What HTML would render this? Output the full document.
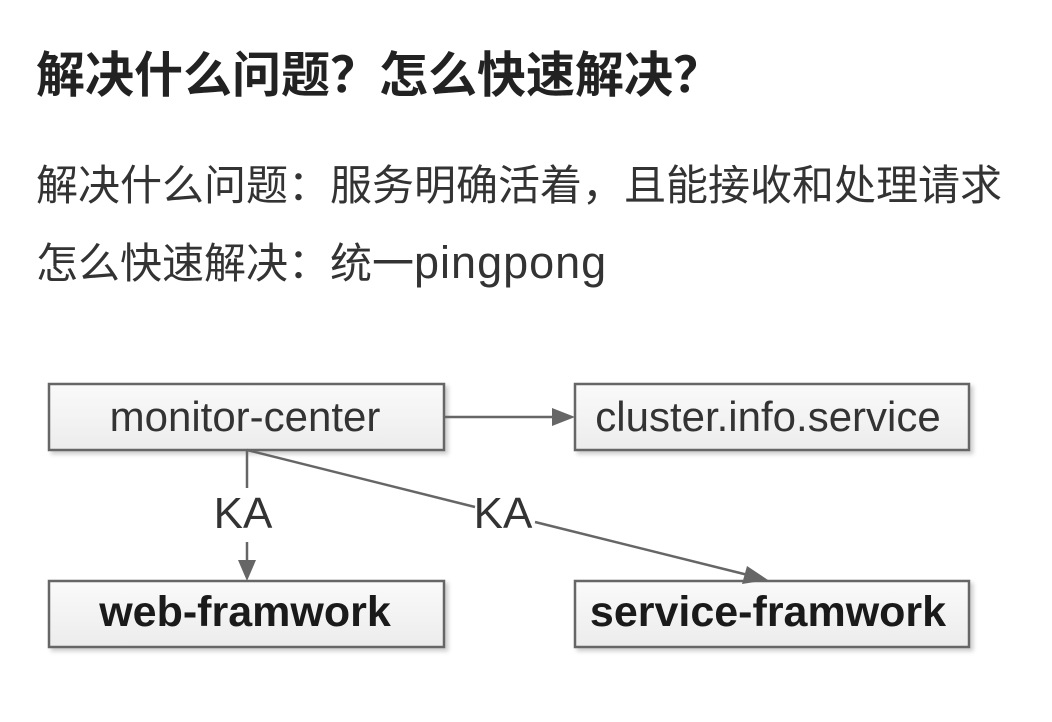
<!DOCTYPE html>
<html><head><meta charset="utf-8"><style>
body{margin:0;width:1052px;height:722px;background:#fff;overflow:hidden;position:relative;font-family:"Liberation Sans","Noto Sans CJK SC",sans-serif;}
.t{position:absolute;white-space:nowrap;color:#222;}
</style></head><body>
<div class="t" style="left:36px;top:49px;font-size:49px;font-weight:bold;line-height:54px;">解决什么问题？怎么快速解决？</div>
<div class="t" style="left:36px;top:161px;font-size:42px;line-height:50px;color:#333;">解决什么问题：服务明确活着，且能接收和处理请求</div>
<div class="t" style="left:36px;top:238px;font-size:42px;line-height:50px;color:#333;">怎么快速解决：统一<span style="font-size:45px;letter-spacing:1px">pingpong</span></div>
<svg width="1052" height="722" style="position:absolute;left:0;top:0">
<defs>
<linearGradient id="g" x1="0" y1="0" x2="0" y2="1"><stop offset="0" stop-color="#fafafa"/><stop offset="1" stop-color="#ececec"/></linearGradient>
<filter id="s"><feDropShadow dx="3" dy="3" stdDeviation="2" flood-color="#000" flood-opacity="0.2"/></filter>
</defs>
<g stroke="#666" stroke-width="2.5" fill="url(#g)" filter="url(#s)">
<rect x="49" y="384" width="395" height="66"/>
<rect x="575" y="384" width="394" height="66"/>
<rect x="49" y="581" width="395" height="66"/>
<rect x="575" y="581" width="394" height="66"/>
</g>
<g stroke="#666" stroke-width="2.5" fill="none">
<line x1="444" y1="417" x2="555" y2="417"/>
<line x1="247" y1="450" x2="247" y2="488"/>
<line x1="247" y1="542" x2="247" y2="562"/>
<line x1="247" y1="450" x2="475" y2="507"/>
<line x1="535" y1="522" x2="748" y2="575"/>
</g>
<g fill="#666">
<polygon points="575,417 552,408 552,426"/>
<polygon points="247,581 238,560 256,560"/>
<polygon points="768,580 742,584 747,566"/>
</g>
<g font-family="Liberation Sans,sans-serif" font-size="42" fill="#333" text-anchor="middle">
<text x="245" y="431">monitor-center</text>
<text x="768" y="431">cluster.info.service</text>
<text x="243" y="528" font-size="44">KA</text>
<text x="503" y="528" font-size="44">KA</text>
<text x="245" y="626" font-weight="bold" font-size="43" fill="#1a1a1a">web-framwork</text>
<text x="768" y="626" font-weight="bold" font-size="43" fill="#1a1a1a">service-framwork</text>
</g>
</svg>
</body></html>
